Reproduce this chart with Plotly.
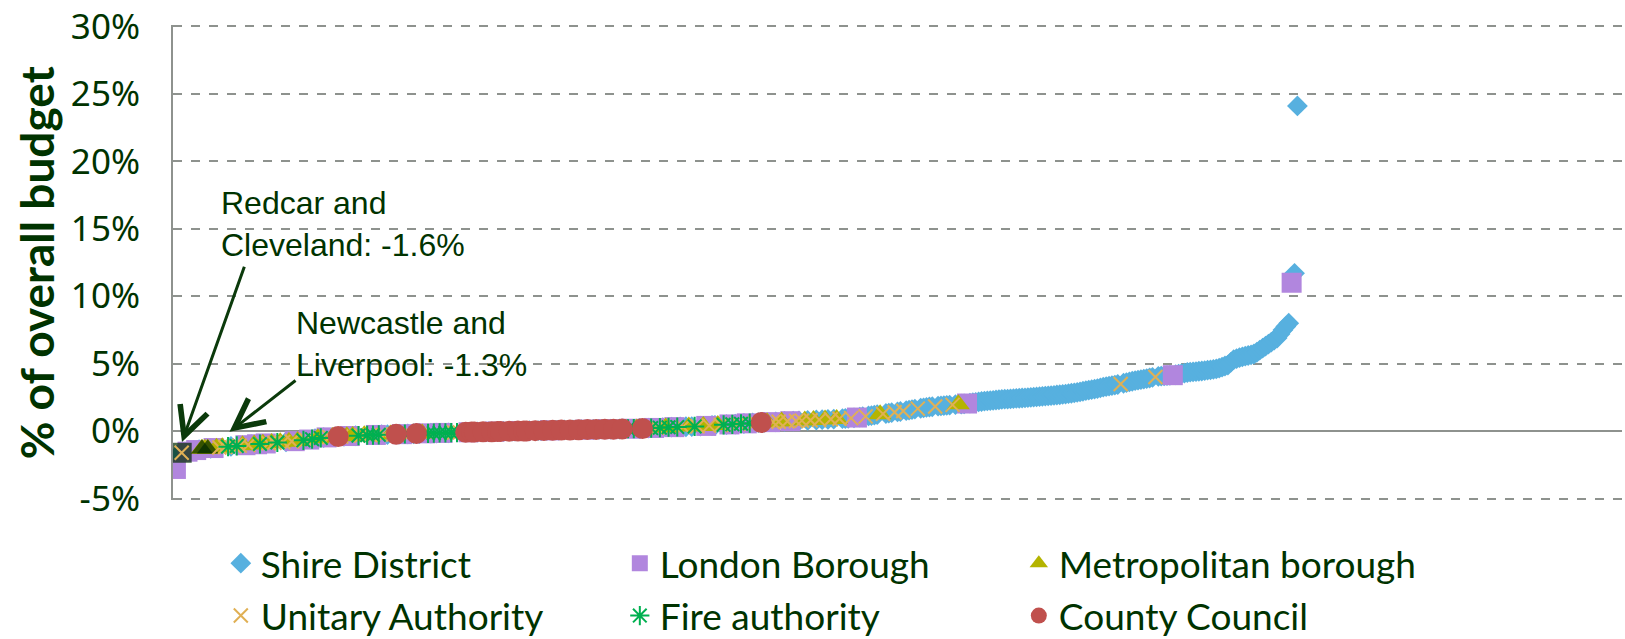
import plotly.graph_objects as go

# Change as % of overall budget, councils sorted from lowest to highest (rank 1..388)
pct = [
    -2.80, -1.68, -1.60, -1.56, -1.52, -1.48, -1.44, -1.40, -1.36, -1.30,
    -1.30, -1.30, -1.27, -1.25, -1.23, -1.21, -1.19, -1.17, -1.15, -1.13,
    -1.11, -1.09, -1.07, -1.05, -1.04, -1.02, -1.00, -0.98, -0.97, -0.95,
    -0.93, -0.91, -0.89, -0.88, -0.86, -0.84, -0.82, -0.81, -0.79, -0.78,
    -0.76, -0.74, -0.72, -0.70, -0.68, -0.65, -0.62, -0.59, -0.56, -0.52,
    -0.50, -0.48, -0.46, -0.45, -0.43, -0.42, -0.40, -0.39, -0.38, -0.37,
    -0.36, -0.35, -0.34, -0.33, -0.32, -0.31, -0.30, -0.29, -0.29, -0.28,
    -0.27, -0.26, -0.26, -0.25, -0.24, -0.24, -0.23, -0.22, -0.22, -0.21,
    -0.20, -0.20, -0.19, -0.18, -0.18, -0.17, -0.16, -0.16, -0.15, -0.15,
    -0.14, -0.13, -0.13, -0.12, -0.12, -0.11, -0.10, -0.10, -0.09, -0.09,
    -0.08, -0.08, -0.07, -0.07, -0.06, -0.06, -0.05, -0.05, -0.04, -0.04,
    -0.03, -0.03, -0.02, -0.02, -0.01, -0.01, 0.00, 0.00, 0.01, 0.01,
    0.02, 0.02, 0.03, 0.03, 0.04, 0.04, 0.05, 0.05, 0.06, 0.06,
    0.07, 0.07, 0.08, 0.08, 0.09, 0.09, 0.09, 0.10, 0.10, 0.10,
    0.11, 0.11, 0.12, 0.12, 0.13, 0.13, 0.13, 0.14, 0.14, 0.15,
    0.15, 0.15, 0.16, 0.16, 0.17, 0.17, 0.18, 0.18, 0.19, 0.19,
    0.20, 0.20, 0.21, 0.22, 0.23, 0.24, 0.25, 0.26, 0.27, 0.28,
    0.29, 0.30, 0.30, 0.31, 0.32, 0.32, 0.33, 0.34, 0.34, 0.35,
    0.36, 0.37, 0.38, 0.39, 0.41, 0.42, 0.43, 0.45, 0.46, 0.47,
    0.49, 0.50, 0.51, 0.53, 0.54, 0.55, 0.57, 0.58, 0.59, 0.61,
    0.62, 0.63, 0.64, 0.65, 0.66, 0.67, 0.68, 0.69, 0.70, 0.71,
    0.72, 0.73, 0.74, 0.75, 0.76, 0.77, 0.78, 0.79, 0.80, 0.81,
    0.82, 0.83, 0.84, 0.85, 0.86, 0.87, 0.88, 0.89, 0.91, 0.92,
    0.93, 0.94, 0.95, 0.97, 0.99, 1.01, 1.04, 1.07, 1.10, 1.13,
    1.16, 1.19, 1.22, 1.25, 1.28, 1.31, 1.34, 1.37, 1.40, 1.43,
    1.46, 1.49, 1.52, 1.56, 1.60, 1.63, 1.67, 1.70, 1.73, 1.76,
    1.79, 1.81, 1.83, 1.85, 1.87, 1.89, 1.91, 1.93, 1.95, 1.97,
    1.99, 2.01, 2.03, 2.05, 2.08, 2.11, 2.14, 2.17, 2.20, 2.23,
    2.25, 2.27, 2.29, 2.31, 2.33, 2.35, 2.37, 2.38, 2.40, 2.41,
    2.43, 2.44, 2.46, 2.47, 2.49, 2.50, 2.52, 2.54, 2.56, 2.58,
    2.60, 2.62, 2.64, 2.66, 2.68, 2.70, 2.72, 2.75, 2.78, 2.81,
    2.84, 2.88, 2.92, 2.96, 3.00, 3.04, 3.08, 3.12, 3.16, 3.21,
    3.26, 3.30, 3.34, 3.38, 3.42, 3.46, 3.50, 3.55, 3.60, 3.65,
    3.70, 3.74, 3.78, 3.82, 3.86, 3.90, 3.94, 3.98, 4.02, 4.06,
    4.08, 4.10, 4.12, 4.14, 4.15, 4.18, 4.22, 4.26, 4.30, 4.35,
    4.38, 4.40, 4.42, 4.44, 4.46, 4.49, 4.52, 4.55, 4.58, 4.61,
    4.68, 4.75, 4.83, 4.90, 5.10, 5.30, 5.38, 5.45, 5.51, 5.56,
    5.61, 5.66, 5.72, 5.85, 6.00, 6.15, 6.30, 6.45, 6.60, 6.75,
    6.90, 7.20, 7.50, 7.75, 8.00, 11.00, 11.70, 24.10,
]

# Rank positions of each council type (every other rank is a Shire District)
london_rank = [1, 5, 8, 14, 25, 29, 32, 42, 47, 53, 61, 70, 79, 87, 93, 102, 111,
               120, 130, 142, 150, 158, 166, 173, 184, 192, 198, 206, 213, 236,
               274, 345, 386]
metro_rank = [10, 11, 12, 15, 17, 24, 28, 31, 34, 37, 40, 43, 50, 55, 60, 62, 66,
              75, 86, 100, 139, 148, 156, 160, 170, 178, 183, 188, 205, 210, 218,
              221, 225, 229, 244, 271]
unitary_rank = [3, 16, 18, 21, 23, 26, 33, 35, 38, 41, 46, 54, 58, 65, 68, 73, 76,
                82, 97, 99, 106, 115, 124, 136, 144, 153, 163, 167, 176, 181, 185,
                189, 195, 201, 207, 209, 212, 215, 217, 220, 223, 227, 230, 234,
                239, 245, 249, 252, 257, 263, 269, 327, 339]
fire_rank = [19, 22, 30, 36, 45, 48, 51, 64, 67, 69, 71, 80, 88, 90, 92, 94, 96, 98,
             132, 157, 159, 165, 168, 171, 174, 180, 190, 193, 196, 199]
county_rank = [57, 77, 84, 101, 103, 104, 107, 110, 112, 113, 116, 119, 121, 122,
               125, 128, 131, 134, 137, 140, 143, 146, 149, 152, 155, 162, 203]

# Named councils picked out in dark green
highlight_rank = [3, 10, 12]   # Redcar and Cleveland, Newcastle, Liverpool
highlight_symbol = ["square", "triangle-up", "triangle-up"]

# y-axis ticks
y_ticks = [-5, 0, 5, 10, 15, 20, 25, 30]
y_tick_text = ["-5%", "0%", "5%", "10%", "15%", "20%", "25%", "30%"]

all_rank = list(range(1, len(pct) + 1))
taken = set(london_rank + metro_rank + unitary_rank + fire_rank + county_rank)
shire_rank = [r for r in all_rank if r not in taken]

TEXT = "#003300"
GRID = "#8e928e"


def vals(ranks):
    return [pct[r - 1] for r in ranks]


fig = go.Figure()

filled = [
    ("Shire District", shire_rank, "diamond", "#57B0DF", 16),
    ("London Borough", london_rank, "square", "#B186DE", 20),
    ("Metropolitan borough", metro_rank, "triangle-up", "#B4B400", 20),
]
for name, ranks, sym, col, size in filled:
    fig.add_trace(go.Scatter(
        x=ranks, y=vals(ranks), mode="markers", name=name, legend="legend",
        marker=dict(symbol=sym, color=col, size=size, line=dict(width=0)),
    ))

# dark markers for the annotated councils
fig.add_trace(go.Scatter(
    x=highlight_rank, y=vals(highlight_rank), mode="markers", showlegend=False,
    marker=dict(symbol=highlight_symbol, color="#002a00", size=[20, 19, 19],
                line=dict(width=0)),
))

fig.add_trace(go.Scatter(
    x=unitary_rank, y=vals(unitary_rank), mode="markers", name="Unitary Authority",
    legend="legend2",
    marker=dict(symbol="x-thin-open", color="#E0B055", size=14,
                line=dict(color="#E0B055", width=2)),
))
fig.add_trace(go.Scatter(
    x=fire_rank, y=vals(fire_rank), mode="markers", name="Fire authority",
    legend="legend2",
    marker=dict(symbol="asterisk-open", color="#00B050", size=16,
                line=dict(color="#00B050", width=2)),
))
fig.add_trace(go.Scatter(
    x=county_rank, y=vals(county_rank), mode="markers", name="County Council",
    legend="legend2",
    marker=dict(symbol="circle", color="#C0504D", size=21, line=dict(width=0)),
))

legend_common = dict(
    orientation="h", xanchor="left", yanchor="middle", yref="container",
    entrywidth=354, entrywidthmode="pixels",
    font=dict(family="Lato", size=37, color=TEXT),
    bgcolor="rgba(0,0,0,0)", itemclick=False,
)

arrow_style = dict(showarrow=True, arrowhead=5, arrowsize=1.9, arrowwidth=3,
                   arrowcolor="#0b3a0b", text="", xref="x", yref="y",
                   axref="x", ayref="y", standoff=0)
label_font = dict(family="Liberation Sans", size=32, color=TEXT)

fig.update_layout(
    width=1625, height=639,
    margin=dict(l=173, r=3, t=25, b=139),
    paper_bgcolor="white", plot_bgcolor="white",
    showlegend=True,
    legend=dict(x=0.033, y=0.118, **legend_common),
    legend2=dict(x=0.033, y=0.036, **legend_common),
    xaxis=dict(range=[0, 500], showgrid=False, zeroline=False, showline=False,
               showticklabels=False, ticks=""),
    yaxis=dict(range=[-5.1, 30.1], tickmode="array", tickvals=y_ticks,
               ticktext=y_tick_text,
               showgrid=True, gridcolor=GRID, gridwidth=1.5,
               griddash="dash", zeroline=True, zerolinecolor=GRID, zerolinewidth=2,
               showline=True, linecolor=GRID, linewidth=2, ticks="",
               ticklabelstandoff=24,
               tickfont=dict(family="Noto Sans", size=35, color=TEXT)),
    annotations=[
        dict(text="<b>% of overall budget</b>", textangle=-90, xref="paper",
             yref="paper", x=-0.094, y=0.5, xanchor="center", yanchor="middle",
             showarrow=False, font=dict(family="Lato", size=46, color=TEXT)),
        dict(text="Redcar and<br>Cleveland: -1.6%", x=16.0, y=18.4, xref="x",
             yref="y", xanchor="left", yanchor="top", align="left",
             showarrow=False, font=label_font),
        dict(text="Newcastle and<br>Liverpool: -1.3%", x=41.9, y=9.5, xref="x",
             yref="y", xanchor="left", yanchor="top", align="left",
             showarrow=False, font=label_font),
        dict(x=3.1, y=-0.81, ax=24.8, ay=12.3, **arrow_style),
        dict(x=19.5, y=-0.05, ax=42.8, ay=3.84, **arrow_style),
    ],
)

fig.write_html("out.html")
